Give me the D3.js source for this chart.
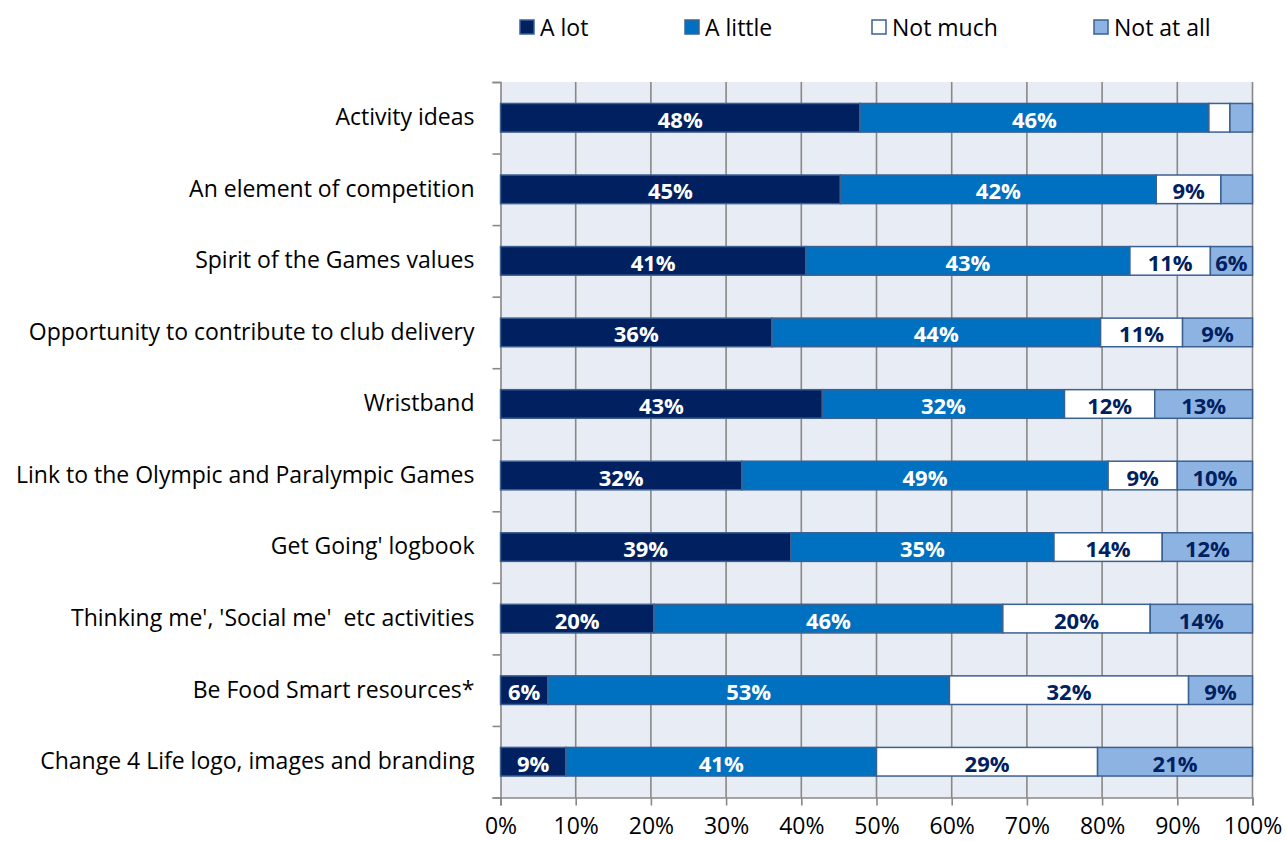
<!DOCTYPE html>
<html>
<head>
<meta charset="utf-8">
<script src="https://cdn.jsdelivr.net/npm/d3@7"></script>
<style>
  html, body { margin: 0; padding: 0; background: #ffffff; }
  svg { display: block; font-family: "Open Sans", Lato, sans-serif; }
</style>
</head>
<body>
<svg id="chart" width="1287" height="841"></svg>
<script>
// Stacked 100% bars: how much each element appealed
const categories = [
  "Activity ideas",
  "An element of competition",
  "Spirit of the Games values",
  "Opportunity to contribute to club delivery",
  "Wristband",
  "Link to the Olympic and Paralympic Games",
  "Get Going' logbook",
  "Thinking me', 'Social me'  etc activities",
  "Be Food Smart resources*",
  "Change 4 Life logo, images and branding"
];
const seriesNames = ["A lot", "A little", "Not much", "Not at all"];
const aLot     = [47.8, 45.2, 40.6, 36.1, 42.8, 32.1, 38.6, 20.4, 6.3, 8.7];
const aLittle  = [46.4, 42.0, 43.1, 43.7, 32.2, 48.7, 35.0, 46.4, 53.4, 41.3];
const notMuch  = [2.8, 8.6, 10.7, 10.9, 12.0, 9.2, 14.4, 19.6, 31.8, 29.4];
const notAtAll = [3.0, 4.2, 5.6, 9.3, 13.0, 10.0, 12.0, 13.6, 8.5, 20.6];
const xTicks = [0, 10, 20, 30, 40, 50, 60, 70, 80, 90, 100];

const fills = ["#002060", "#0070c0", "#ffffff", "#8db3e2"];
const labelColors = ["#ffffff", "#ffffff", "#002060", "#002060"];
const font = "'Open Sans', Lato, sans-serif";
const textSize = 23;

const rows = categories.map((c, i) => ({
  category: c,
  "A lot": aLot[i],
  "A little": aLittle[i],
  "Not much": notMuch[i],
  "Not at all": notAtAll[i]
}));

const svg = d3.select("#chart");
const plotLeft = 500.5, plotRight = 1252.5, plotTop = 82, plotBottom = 797.5;

const x = d3.scaleLinear().domain([0, 100]).range([plotLeft, plotRight]);
const y = d3.scaleBand().domain(categories).range([plotTop, plotBottom])
  .paddingInner(0.6).paddingOuter(0.3);
const yEdge = d3.scaleLinear().domain([0, categories.length]).range([plotTop, plotBottom]);

// plot background
svg.append("rect")
  .attr("x", plotLeft).attr("y", plotTop)
  .attr("width", plotRight - plotLeft).attr("height", plotBottom - plotTop)
  .attr("fill", "#e8ecf4");

// vertical gridlines
svg.append("g").selectAll("line")
  .data(xTicks.filter(d => d > 0))
  .join("line")
  .attr("x1", d => x(d)).attr("x2", d => x(d))
  .attr("y1", plotTop).attr("y2", plotBottom)
  .attr("stroke", "#888888").attr("stroke-width", 1.6);

// x axis
const xAxis = svg.append("g")
  .attr("transform", `translate(0,${plotBottom})`)
  .call(d3.axisBottom(x).tickValues(xTicks).tickFormat(d => d + "%").tickSize(8).tickPadding(12));
xAxis.select(".domain").attr("stroke", "#888888").attr("stroke-width", 1.6);
xAxis.selectAll(".tick line").attr("stroke", "#888888").attr("stroke-width", 1.6);
xAxis.selectAll(".tick text")
  .attr("fill", "#000").attr("font-size", textSize).attr("font-family", font);

// y axis ticks at category boundaries
const yTickAxis = svg.append("g")
  .attr("transform", `translate(${plotLeft},0)`)
  .call(d3.axisLeft(yEdge).tickValues(d3.range(categories.length + 1)).tickFormat("").tickSize(8));
yTickAxis.select(".domain").attr("stroke", "#888888").attr("stroke-width", 1.6);
yTickAxis.selectAll(".tick line").attr("stroke", "#888888").attr("stroke-width", 1.6);

// category labels
const yAxis = svg.append("g")
  .attr("transform", `translate(${plotLeft},0)`)
  .call(d3.axisLeft(y).tickSize(0).tickPadding(26));
yAxis.select(".domain").remove();
yAxis.selectAll(".tick text")
  .attr("fill", "#000").attr("font-size", textSize).attr("font-family", font)
  .style("white-space", "pre");

// stacked bars
const stack = d3.stack().keys(seriesNames)(rows);
const layers = svg.append("g").selectAll("g")
  .data(stack)
  .join("g")
  .attr("fill", (d, i) => fills[i]);

layers.selectAll("rect")
  .data(d => d)
  .join("rect")
  .attr("x", d => x(d[0]))
  .attr("y", d => y(d.data.category))
  .attr("width", d => x(d[1]) - x(d[0]))
  .attr("height", y.bandwidth())
  .attr("stroke", "#3c6191")
  .attr("stroke-width", 1.5);

// value labels
stack.forEach((layer, li) => {
  svg.append("g").selectAll("text")
    .data(layer.filter(d => d[1] - d[0] >= 5))
    .join("text")
    .attr("x", d => (x(d[0]) + x(d[1])) / 2)
    .attr("y", d => y(d.data.category) + y.bandwidth() / 2 + 1)
    .attr("text-anchor", "middle")
    .attr("dominant-baseline", "central")
    .attr("font-size", 22)
    .attr("font-weight", "bold")
    .attr("font-family", font)
    .attr("fill", labelColors[li])
    .text(d => Math.round(d[1] - d[0]) + "%");
});

// legend
const legendX = [520, 685, 872, 1094];
const legend = svg.append("g").selectAll("g")
  .data(seriesNames)
  .join("g")
  .attr("transform", (d, i) => `translate(${legendX[i]},20)`);
legend.append("rect")
  .attr("width", 14).attr("height", 14)
  .attr("fill", (d, i) => fills[i])
  .attr("stroke", "#3c6191").attr("stroke-width", 1.5);
legend.append("text")
  .attr("x", 20).attr("y", 7)
  .attr("dominant-baseline", "central")
  .attr("font-size", textSize)
  .attr("font-family", font)
  .attr("fill", "#000")
  .text(d => d);
</script>
</body>
</html>
